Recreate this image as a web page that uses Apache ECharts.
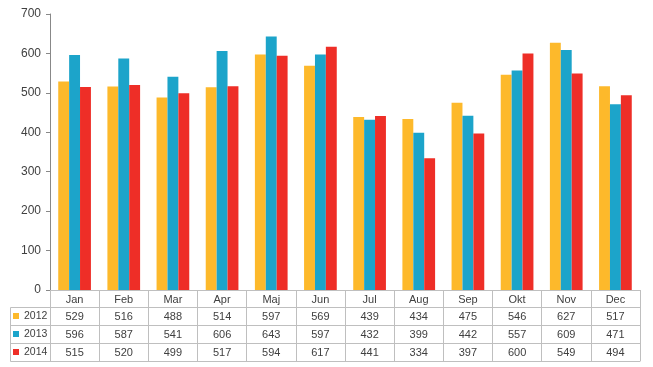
<!DOCTYPE html>
<html>
<head>
<meta charset="utf-8">
<script src="https://cdn.jsdelivr.net/npm/echarts@6/dist/echarts.min.js"></script>
<style>html,body{margin:0;padding:0;background:#fff}#c{width:653px;height:367px}</style>
</head>
<body>
<div id="c"></div>
<script>
const months = ['Jan','Feb','Mar','Apr','Maj','Jun','Jul','Aug','Sep','Okt','Nov','Dec'];
const seriesNames = ['2012','2013','2014'];
const v2012 = [529,516,488,514,597,569,439,434,475,546,627,517];
const v2013 = [596,587,541,606,643,597,432,399,442,557,609,471];
const v2014 = [515,520,499,517,594,617,441,334,397,600,549,494];
const yTicks = {min:0, max:700, interval:100};

const colors = ['#FDB92B','#1CA4CA','#EE2E27'];
const values = [v2012, v2013, v2014];
const FONT = 'Liberation Sans';
const TXT = '#404040';
const BORDER = '#BFBFBF';
const ROW = 18;

const chart = echarts.init(document.getElementById('c'), null, {renderer:'canvas'});

const xAxes = [{
  type:'category', data: months, gridIndex:0, position:'bottom',
  axisLine:{show:true, lineStyle:{color:BORDER, width:1}},
  axisTick:{show:true, length:71, lineStyle:{color:BORDER, width:1}},
  axisLabel:{interval:0, color:TXT, fontFamily:FONT, fontSize:11, margin:3, lineHeight:14}
}];
values.forEach((arr, i) => {
  xAxes.push({
    type:'category', data: arr.map(String), gridIndex:0, position:'bottom',
    offset: 17 + ROW*i,
    axisLine:{show:true, lineStyle:{color:BORDER, width:1}},
    axisTick:{show:false},
    axisLabel:{interval:0, color:TXT, fontFamily:FONT, fontSize:11, margin:3, lineHeight:14}
  });
});
// bottom line of the table
xAxes.push({
  type:'category', data: months.map(()=>''), gridIndex:0, position:'bottom',
  offset: 17 + ROW*3,
  axisLine:{show:true, lineStyle:{color:BORDER, width:1}},
  axisTick:{show:false}, axisLabel:{show:false}
});

chart.setOption({
  animation:false,
  textStyle:{fontFamily:FONT},
  grid:{left:50, right:13, top:14, bottom:77, containLabel:false},
  legend:{
    orient:'vertical', left:13, top:309, padding:0, itemGap:4,
    itemWidth:6, itemHeight:6, icon:'rect',
    data: seriesNames,
    textStyle:{color:TXT, fontFamily:FONT, fontSize:10.5, lineHeight:14}
  },
  xAxis: xAxes,
  yAxis:{
    type:'value', min:yTicks.min, max:yTicks.max, interval:yTicks.interval,
    axisLine:{show:true, lineStyle:{color:'#888888'}},
    axisTick:{show:true, length:4, lineStyle:{color:'#888888'}},
    splitLine:{show:false},
    axisLabel:{color:TXT, fontFamily:FONT, fontSize:12, margin:9}
  },
  series: values.map((arr,i)=>({
    name: seriesNames[i], type:'bar', xAxisIndex:0, data: arr,
    barGap:'0%', barCategoryGap:'33.5%',
    itemStyle:{color:colors[i]}
  })),
  graphic:[
    {type:'line', shape:{x1:10.5,y1:307.5,x2:50,y2:307.5}, style:{stroke:BORDER, lineWidth:1}},
    {type:'line', shape:{x1:10.5,y1:325.5,x2:50,y2:325.5}, style:{stroke:BORDER, lineWidth:1}},
    {type:'line', shape:{x1:10.5,y1:343.5,x2:50,y2:343.5}, style:{stroke:BORDER, lineWidth:1}},
    {type:'line', shape:{x1:10.5,y1:361.5,x2:50,y2:361.5}, style:{stroke:BORDER, lineWidth:1}},
    {type:'line', shape:{x1:10.5,y1:307.5,x2:10.5,y2:361.5}, style:{stroke:BORDER, lineWidth:1}}
  ]
});
</script>
</body>
</html>
